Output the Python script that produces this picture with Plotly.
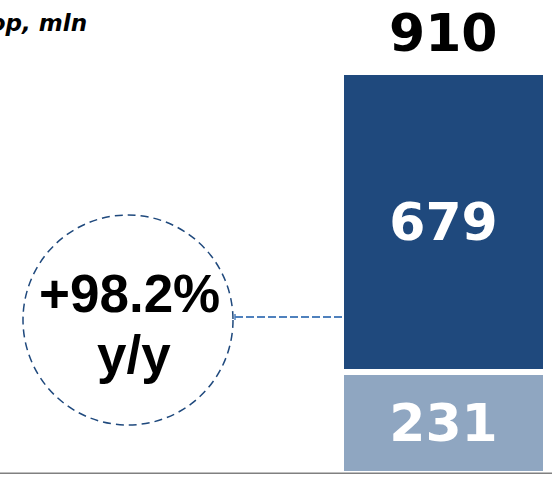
import plotly.graph_objects as go

# Data
category = ["2021"]
base_segment = [231]
growth_segment = [679]
total = [910]
yoy_label = "+98.2%"
title_text = "Users of the online shop, mln"

W, H = 552, 477
BASE_PX = 474          # pixel row of the baseline
TOP_PX = 72            # pixel row of the stack top (outline included)
plot_h = BASE_PX
y_max = total[0] * plot_h / (plot_h - TOP_PX)

DARK = "#1F497D"
LIGHT = "#8FA6C1"
FONT = "Arial, Liberation Sans, sans-serif"
WIDE = "DejaVu Sans, sans-serif"

fig = go.Figure()
fig.add_trace(go.Bar(
    x=category, y=base_segment, marker=dict(color=LIGHT, line=dict(color="white", width=6)),
    text=base_segment, textposition="inside", insidetextanchor="middle",
    textfont=dict(color="white", size=52, family=WIDE, weight="bold"),
))
fig.add_trace(go.Bar(
    x=category, y=growth_segment, marker=dict(color=DARK, line=dict(color="white", width=6)),
    text=growth_segment, textposition="inside", insidetextanchor="middle",
    textfont=dict(color="white", size=52, family=WIDE, weight="bold"),
))


def px(x):
    return x / W


def py(y):
    return 1 - y / plot_h


# total above the stack (category axes take the category index)
fig.add_annotation(x=category.index(category[0]), y=total[0], xref="x", yref="y",
                   text=f"<b>{total[0]}</b>",
                   showarrow=False, xanchor="center", yanchor="bottom", yshift=7,
                   font=dict(size=52, color="black", family=WIDE))

# title
fig.add_annotation(x=px(89), y=py(8), xref="paper", yref="paper", text=f"<b><i>{title_text}</i></b>",
                   showarrow=False, xanchor="right", yanchor="top",
                   font=dict(size=23, color="black", family=WIDE))

# growth bubble
fig.add_shape(type="circle", xref="paper", yref="paper",
              x0=px(23), x1=px(233), y0=py(425), y1=py(215),
              line=dict(color=DARK, width=1.5, dash="8px,5px"))
fig.add_shape(type="line", xref="paper", yref="paper",
              x0=px(235), x1=px(344), y0=py(317), y1=py(317),
              line=dict(color="#4F81BD", width=2, dash="8px,3px"))
fig.add_shape(type="line", xref="paper", yref="paper",
              x0=px(235), x1=px(235), y0=py(314), y1=py(320),
              line=dict(color="#4F81BD", width=1.5))
fig.add_annotation(x=px(129.5), y=py(293), xref="paper", yref="paper", text=f"<b>{yoy_label}</b>",
                   showarrow=False, xanchor="center", yanchor="middle",
                   font=dict(size=53, color="black", family=FONT))
fig.add_annotation(x=px(134), y=py(354), xref="paper", yref="paper", text="<b>y/y</b>",
                   showarrow=False, xanchor="center", yanchor="middle",
                   font=dict(size=53, color="black", family=FONT))

# baseline
fig.add_shape(type="line", xref="paper", yref="y", x0=0, x1=1, y0=0, y1=0,
              line=dict(color="#808080", width=3), layer="above")

fig.update_layout(
    width=W, height=H, barmode="stack", bargap=0, showlegend=False,
    margin=dict(l=0, r=0, t=0, b=H - BASE_PX),
    plot_bgcolor="white", paper_bgcolor="white",
    xaxis=dict(type="category", domain=[px(341), px(546)], range=[-0.5, 0.5],
               showticklabels=False, showgrid=False, zeroline=False, ticks=""),
    yaxis=dict(range=[0, y_max], showticklabels=False, showgrid=False, zeroline=False, ticks=""),
)

fig.write_html("out.html")
